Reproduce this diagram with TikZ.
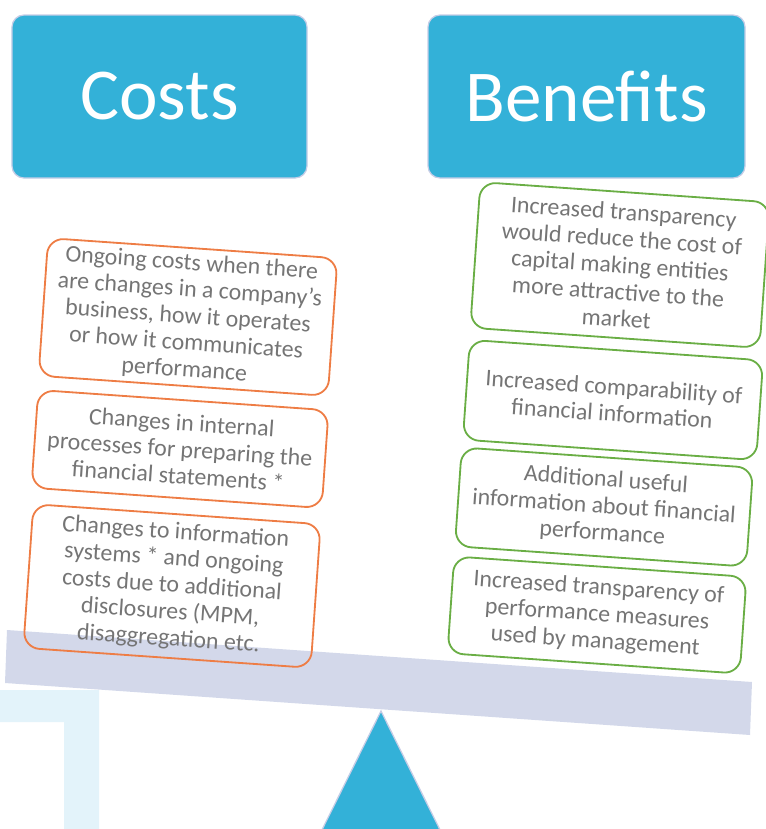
\documentclass[tikz,border=0pt]{standalone}
\usepackage{fontspec}
\setmainfont{Carlito}
\usepackage{xcolor}
\usetikzlibrary{positioning}
\definecolor{headblue}{HTML}{33B1D8}
\definecolor{headedge}{HTML}{C6CDE6}
\definecolor{beamgray}{HTML}{D3D8EA}
\definecolor{framecyan}{HTML}{E3F3FA}
\definecolor{costorange}{HTML}{EE7D45}
\definecolor{benefitgreen}{HTML}{6AAE45}
\definecolor{itemgray}{HTML}{757575}
\tikzset{
    % Heading boxes
    head box/.style={rectangle, draw=headedge, line width=0.9pt, fill=headblue,
                     rounded corners=3mm, text=white, inner sep=0pt,
                     font=\fontsize{52}{60}\selectfont, minimum height=40.75mm},
    % Tilted item boxes on the beam
    item box/.style={rectangle, draw, line width=1.3pt, rounded corners=4mm,
                     align=center, text=itemgray, rotate=-4, inner sep=0pt,
                     font=\fontsize{17}{19}\selectfont},
    cost box/.style={item box, draw=costorange},
    benefit box/.style={item box, draw=benefitgreen},
}

\begin{document}
\begin{tikzpicture}[x=0.25mm, y=-0.25mm]
    \useasboundingbox (0,0) rectangle (766,829);
    \clip (0,0) rectangle (766,829);

    % Frame corner, bottom left
    \fill[framecyan] (0,690) -- (99,690) -- (99,829) -- (64,829) -- (64,722) -- (0,722) -- cycle;

    % Beam and pivot
    \fill[beamgray] (7,630) -- (752,682) -- (750,735) -- (5,683) -- cycle;
    \draw[headedge, line width=0.9pt, fill=headblue] (381,711) -- (450,850) -- (312,850) -- cycle;

    % Headings
    \node[head box, minimum width=73.75mm] (costs) at (159.5,96.5) {Costs};
    \node[head box, minimum width=79.25mm] (benefits) at (586.5,96.5) {Benefits};

    % Costs
    \node[cost box, minimum width=72.5mm, minimum height=34.5mm] (cost1) at (188,317)
        {Ongoing costs when there\\are changes in a company’s\\business, how it operates\\or how it communicates\\performance};
    \node[cost box, minimum width=72.75mm, minimum height=24.5mm] (cost2) at (180,449)
        {Changes in internal\\processes for preparing the\\financial statements *};
    \node[cost box, minimum width=72mm, minimum height=36mm] (cost3) at (172,586)
        {Changes to information\\systems * and ongoing\\costs due to additional\\disclosures (MPM,\\disaggregation etc.};

    % Benefits
    \node[benefit box, minimum width=72.5mm, minimum height=36.5mm] (benefit1) at (620,265)
        {Increased transparency\\would reduce the cost of\\capital making entities\\more attractive to the\\market};
    \node[benefit box, minimum width=73.5mm, minimum height=25mm] (benefit2) at (613,400)
        {Increased comparability of\\financial information};
    \node[benefit box, minimum width=73mm, minimum height=24.75mm] (benefit3) at (604,507)
        {Additional useful\\information about financial\\performance};
    \node[benefit box, minimum width=73.25mm, minimum height=24.25mm] (benefit4) at (597,615)
        {Increased transparency of\\performance measures\\used by management};
\end{tikzpicture}
\end{document}
